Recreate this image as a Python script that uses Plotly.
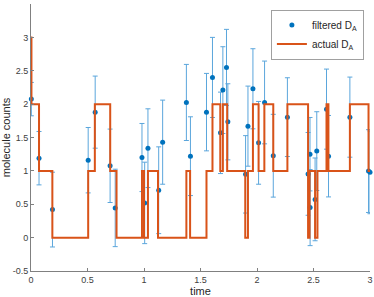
import plotly.graph_objects as go

# actual D_A (stairs)
step_t = [0, 0.004, 0.071, 0.189, 0.506, 0.565, 0.701, 0.757, 0.982, 1.0, 1.035, 1.124,
          1.375, 1.408, 1.553, 1.606, 1.675, 1.698, 1.736, 1.896, 1.92, 1.964, 2.014,
          2.065, 2.144, 2.269, 2.452, 2.465, 2.514, 2.535, 2.615, 2.632, 2.822, 2.987, 3.0]
step_v = [3, 2, 1, 0, 1, 2, 1, 0, 1, 0, 1, 0,
          1, 0, 1, 2, 1, 2, 1, 0, 1, 2, 1,
          2, 1, 2, 0, 1, 0, 1, 2, 1, 2, 1, 1]

# filtered D_A (points with error bars)
pt_t = [0.003, 0.071, 0.19, 0.506, 0.568, 0.70, 0.745, 0.982, 1.006, 1.035, 1.13, 1.165,
        1.375, 1.411, 1.553, 1.606, 1.677, 1.698, 1.73, 1.742, 1.899, 1.92, 1.964, 2.014,
        2.067, 2.144, 2.269, 2.452, 2.469, 2.47, 2.514, 2.529, 2.615, 2.633, 2.822, 2.987, 3.0]
pt_v = [2.075, 1.19, 0.42, 1.16, 1.88, 1.076, 0.445, 1.20, 0.52, 1.34, 0.71, 1.43,
        2.025, 1.22, 1.88, 2.40, 1.57, 2.21, 2.55, 1.735, 0.948, 1.67, 2.23, 1.42,
        2.025, 1.227, 1.805, 0.955, 1.25, 0.45, 0.573, 1.296, 1.925, 1.22, 1.805, 0.997, 0.978]
pt_err = [0.25, 0.40, 0.56, 0.49, 0.54, 0.55, 0.58, 0.51, 0.61, 0.59, 0.65, 0.63,
          0.57, 0.59, 0.58, 0.60, 0.61, 0.65, 0.57, 0.57, 0.58, 0.60, 0.60, 0.62,
          0.62, 0.62, 0.59, 0.62, 0.55, 0.57, 0.62, 0.59, 0.60, 0.61, 0.60, 0.62, 0.62]

FONT = "Liberation Sans, Arial, sans-serif"

fig = go.Figure()
fig.add_trace(go.Scatter(
    x=pt_t, y=pt_v, mode="markers", name="filtered D<sub>A</sub>",
    marker=dict(color="#0072BD", size=5),
    error_y=dict(type="data", array=pt_err, visible=True, color="#5ba6dc",
                 thickness=1, width=2.5),
    cliponaxis=False,
))
fig.add_trace(go.Scatter(
    x=step_t, y=step_v, mode="lines", name="actual D<sub>A</sub>",
    line=dict(color="#D95319", width=2, shape="hv"),
))

axis_common = dict(showline=True, linecolor="#808080", linewidth=1, ticks="inside",
                   ticklen=3, tickcolor="#808080", showgrid=False, zeroline=False,
                   mirror=False, automargin=False,
                   tickfont=dict(family=FONT, size=9, color="#404040"))
fig.update_xaxes(range=[0, 3], tickvals=[0, 0.5, 1, 1.5, 2, 2.5, 3],
                 ticktext=["0", "0.5", "1", "1.5", "2", "2.5", "3"],
                 title=dict(text="time", font=dict(family=FONT, size=11, color="#262626"), standoff=0),
                 **axis_common)
fig.update_yaxes(range=[-0.5, 3.5], tickvals=[-0.5, 0, 0.5, 1, 1.5, 2, 2.5, 3, 3.5],
                 ticktext=["-0.5", "0", "0.5", "1", "1.5", "2", "2.5", "3", "3.5"],
                 title=dict(text="molecule counts", font=dict(family=FONT, size=11, color="#262626"), standoff=3),
                 **axis_common)
fig.update_layout(
    width=374, height=297,
    margin=dict(l=31, r=4, t=4, b=26),
    plot_bgcolor="white", paper_bgcolor="white",
    legend=dict(x=0.982, y=0.979, xanchor="right", yanchor="top",
                bgcolor="white", bordercolor="#a0a0a0", borderwidth=1,
                font=dict(family=FONT, size=10, color="#262626"),
                itemwidth=30, tracegroupgap=0),
)
fig.write_html("out.html", config={"displayModeBar": False},
               post_script="document.body.style.margin='0';document.body.style.overflow='hidden';")
